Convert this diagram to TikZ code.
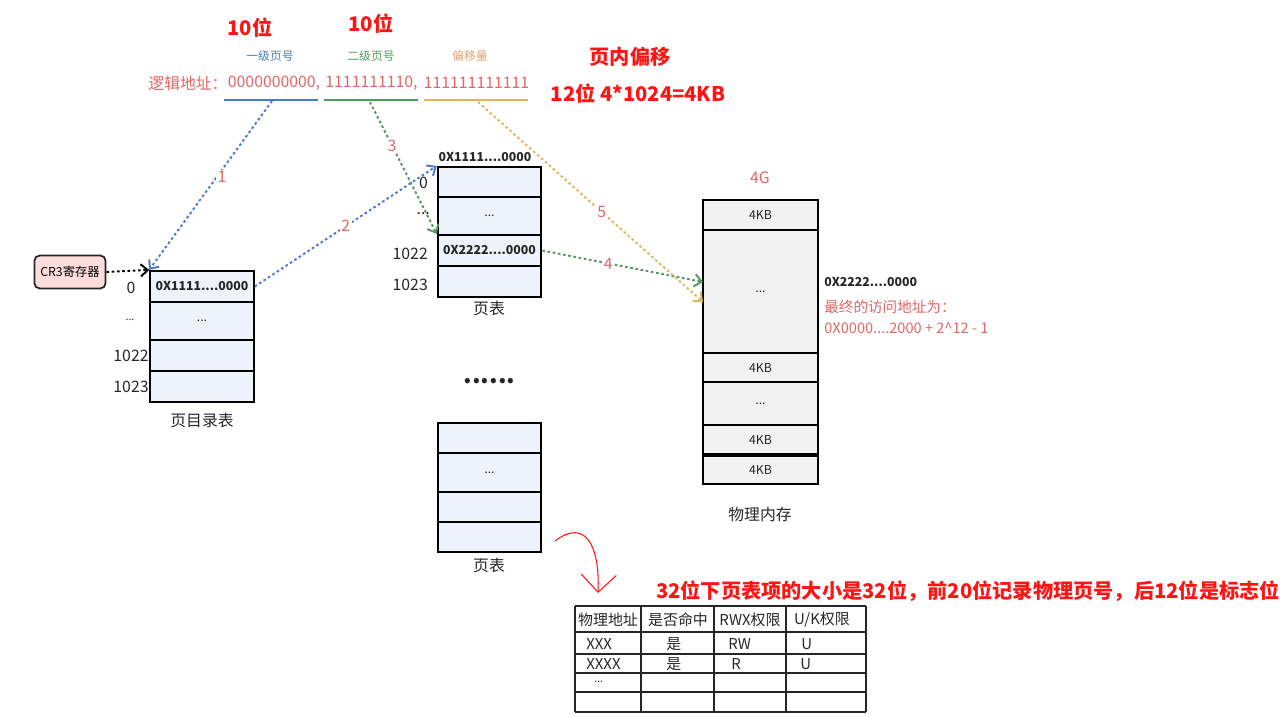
\documentclass[tikz,border=0pt]{standalone}
\usepackage{fontspec}
\setmainfont{Noto Sans CJK SC}
\usetikzlibrary{arrows.meta}
\definecolor{lred}{HTML}{E06666}
\definecolor{hred}{HTML}{FF1414}
\definecolor{lblue}{HTML}{4E79C9}
\definecolor{lgreen}{HTML}{4F9A5A}
\definecolor{lorange}{HTML}{E3B45A}
\definecolor{peach}{HTML}{DDA272}
\definecolor{cellblue}{HTML}{EEF3FB}
\definecolor{memgray}{HTML}{F2F2F2}
\definecolor{cregpink}{HTML}{FFDDDD}
\definecolor{ink}{HTML}{262626}
\tikzset{
  cell/.style={draw=black, line width=1.2pt, fill=cellblue, inner sep=0pt,
    minimum width=2.07cm, font=\fontsize{7}{8}\selectfont, text=ink},
  memcell/.style={draw=black, line width=1.2pt, fill=memgray, inner sep=0pt,
    minimum width=2.3cm, font=\fontsize{7}{8}\selectfont, text=ink},
  addr/.style={font=\bfseries\fontsize{7}{8}\selectfont, text=ink},
  idx/.style={font=\fontsize{9}{10}\selectfont, text=ink},
  tblcap/.style={font=\fontsize{9}{10}\selectfont, text=ink},
  hot/.style={text=hred, font=\bfseries\fontsize{11.5}{13}\selectfont},
  tag/.style={font=\fontsize{6.7}{8}\selectfont},
  note/.style={anchor=west, inner sep=0pt, text=lred, font=\fontsize{8.3}{10}\selectfont},
  walk/.style={dash pattern=on 1.5pt off 1.5pt, line width=1.1pt,
    -{Straight Barb[length=4pt,width=7pt]}},
  num/.style={fill=white, text=lred, inner sep=1pt, font=\fontsize{9}{10}\selectfont},
  tcell/.style={font=\fontsize{8.5}{10}\selectfont, text=ink},
}
\begin{document}
\begin{tikzpicture}[x=0.02cm, y=-0.02cm]
  \useasboundingbox (0,0) rectangle (1280,716);
  % logical address
  \node[hot] (bits1) at (250,28) {10位};
  \node[hot] (bits2) at (371,24) {10位};
  \node[tag, text=lblue] (dirno) at (270,56) {一级页号};
  \node[tag, text=lgreen] (tblno) at (371,56) {二级页号};
  \node[tag, text=peach] (offno) at (470,56) {偏移量};
  \node[hot] (offtxt) at (630,57) {页内偏移};
  \node[hot] (offsize) at (638,94) {12位 4*1024=4KB};
  \node[idx, text=lred] (laddr) at (188,83) {逻辑地址：};
  \node[idx, text=lred] (grp1) at (274,83) {0000000000,};
  \node[idx, text=lred] (grp2) at (371.5,83) {1111111110,};
  \node[idx, text=lred] (grp3) at (476.5,83) {111111111111};
  \draw[lblue, line width=1.3pt] (224,100) -- (318,100);
  \draw[lgreen, line width=1.3pt] (324,100) -- (418,100);
  \draw[lorange, line width=1.3pt] (424,100) -- (528,100);
  \coordinate (u1) at (272,101);
  \coordinate (u2) at (370,102);
  \coordinate (u3) at (478,102);

  % CR3 and page directory
  \node[draw=ink, line width=1pt, rounded corners=3pt, fill=cregpink,
    minimum width=1.4cm, minimum height=0.66cm,
    font=\fontsize{7}{8}\selectfont] (cr3) at (70,272) {CR3寄存器};
  \node[cell, minimum height=0.62cm, font=\bfseries\fontsize{7}{8}\selectfont] (pd0) at (202,286.5) {0X1111....0000};
  \node[cell, minimum height=0.76cm] (pd1) at (202,321) {...};
  \node[cell, minimum height=0.62cm] (pd2) at (202,355.5) {};
  \node[cell, minimum height=0.62cm] (pd3) at (202,386.5) {};
  \node[idx] (pdi0) at (131,288) {0};
  \node[idx, font=\fontsize{6}{7}\selectfont] (pdi1) at (130,320) {...};
  \node[idx] (pdi2) at (131,356) {1022};
  \node[idx] (pdi3) at (131,387) {1023};
  \node[tblcap] (pdcap) at (202,421) {页目录表};

  % page table
  \node[addr] (pthead) at (485,157) {0X1111....0000};
  \node[cell, minimum height=0.6cm] (pt0) at (489.5,182) {};
  \node[cell, minimum height=0.76cm] (pt1) at (489.5,216) {...};
  \node[cell, minimum height=0.62cm, font=\bfseries\fontsize{7}{8}\selectfont] (pt2) at (489.5,250.5) {0X2222....0000};
  \node[cell, minimum height=0.62cm] (pt3) at (489.5,281.5) {};
  \node[idx, anchor=east] (pti0) at (434,183) {0};
  \node[idx, anchor=east] (pti1) at (436,214) {...};
  \node[idx, anchor=east] (pti2) at (434,254) {1022};
  \node[idx, anchor=east] (pti3) at (434,285) {1023};
  \node[tblcap] (ptcap) at (489,309) {页表};

  \node[font=\bfseries\fontsize{14}{14}\selectfont, anchor=base, text=ink] (more) at (489.5,383) {......};

  % another page table
  \node[cell, minimum height=0.6cm] (pq0) at (489.5,438) {};
  \node[cell, minimum height=0.78cm] (pq1) at (489.5,472.5) {...};
  \node[cell, minimum height=0.6cm] (pq2) at (489.5,507) {};
  \node[cell, minimum height=0.6cm] (pq3) at (489.5,537) {};
  \node[tblcap] (pqcap) at (489,566) {页表};

  % physical memory
  \node[text=lred, font=\fontsize{9}{10}\selectfont] (fourg) at (760,178) {4G};
  \node[memcell, minimum height=0.6cm] (m0) at (760.5,215) {4KB};
  \node[memcell, minimum height=2.46cm] (m1) at (760.5,291.5) {...};
  \node[memcell, minimum height=0.58cm] (m2) at (760.5,367.5) {4KB};
  \node[memcell, minimum height=0.86cm] (m3) at (760.5,403.5) {...};
  \node[memcell, minimum height=0.58cm] (m4) at (760.5,439.5) {4KB};
  \node[memcell, minimum height=0.56cm] (m5) at (760.5,470) {4KB};
  \node[tblcap] (memcap) at (760,515) {物理内存};
  \node[addr, anchor=west, inner sep=0pt] (frame) at (824,282) {0X2222....0000};
  \node[note] (final) at (824,307) {最终的访问地址为：};
  \node[note] (range) at (824,328) {0X0000....2000 + 2\^{}12 - 1};
  \coordinate (hit4) at (703,282);
  \coordinate (hit5) at (703,302);

  % walk
  \draw[walk, black] (cr3.east) -- (pd0.north west);
  \draw[walk, lblue] (u1) -- node[num, pos=0.45, xshift=3pt] {1} (pd0.north west);
  \draw[walk, lblue] (pd0.east) -- node[num] {2} (pt0.north west);
  \draw[walk, lgreen] (u2) -- node[num, pos=0.33] {3} (pt2.north west);
  \draw[walk, lgreen] (pt2.east) -- node[num, pos=0.41] {4} (hit4);
  \draw[walk, lorange] (u3) -- node[num, pos=0.55] {5} (hit5);

  % page table entry
  \node[hot] (pte) at (968,591) {32位下页表项的大小是32位，前20位记录物理页号，后12位是标志位};
  \coordinate (s0) at (555,541);
  \coordinate (s1) at (598,593);
  \draw[hred, line width=0.6pt, -{Straight Barb[length=10pt,width=20pt]}]
    (s0) .. controls (585,518) and (600,545) .. (s1);
  \foreach \x in {575,641,714,786,866}
    \draw[ink, line width=0.7pt] (\x,606) -- (\x,712);
  \foreach \y in {606,632,654,673,692,712}
    \draw[ink, line width=0.7pt] (575,\y) -- (866,\y);
  \node[tcell] (h1) at (608,620) {物理地址};
  \node[tcell] (h2) at (678,620) {是否命中};
  \node[tcell] (h3) at (750,620) {RWX权限};
  \node[tcell] (h4) at (822,620) {U/K权限};
  \node[tcell, anchor=west, inner sep=0pt] (r11) at (586,644) {XXX};
  \node[tcell, anchor=west, inner sep=0pt] (r12) at (666,644) {是};
  \node[tcell, anchor=west, inner sep=0pt] (r13) at (728,644) {RW};
  \node[tcell, anchor=west, inner sep=0pt] (r14) at (801,644) {U};
  \node[tcell, anchor=west, inner sep=0pt] (r21) at (586,664) {XXXX};
  \node[tcell, anchor=west, inner sep=0pt] (r22) at (666,664) {是};
  \node[tcell, anchor=west, inner sep=0pt] (r23) at (731,664) {R};
  \node[tcell, anchor=west, inner sep=0pt] (r24) at (800,664) {U};
  \node[tcell, anchor=west, inner sep=0pt, font=\fontsize{6}{7}\selectfont] (r31) at (594,682) {...};
\end{tikzpicture}
\end{document}
